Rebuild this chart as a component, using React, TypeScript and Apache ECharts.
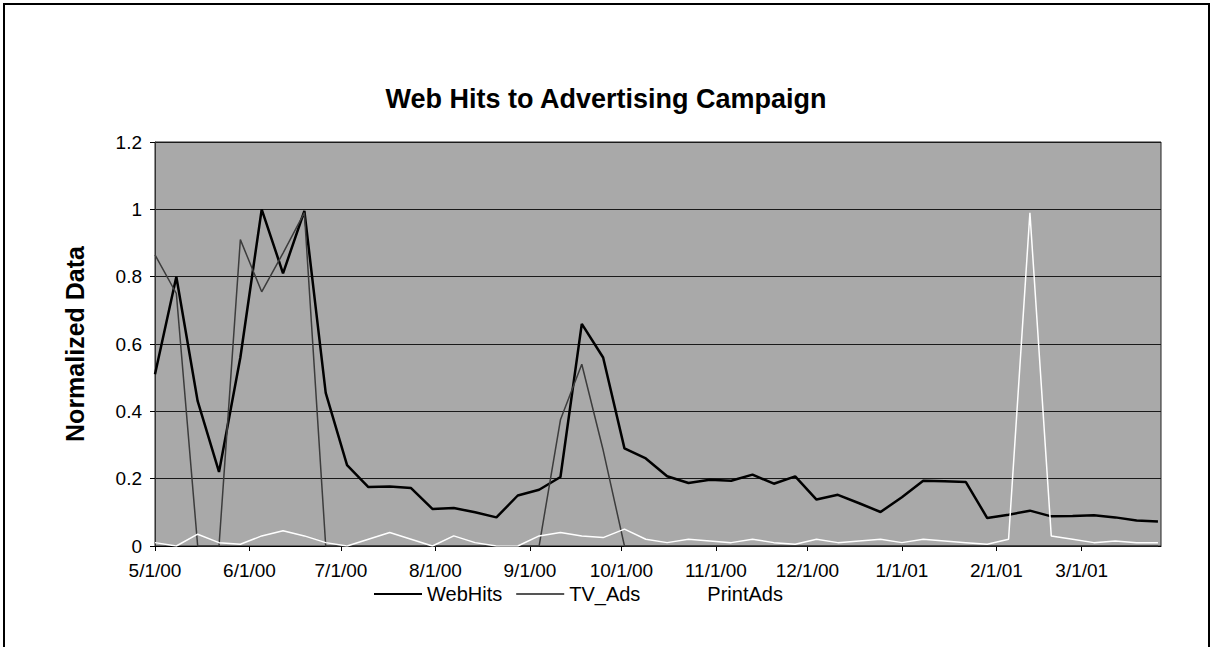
import React, { useEffect, useRef } from "react";
import * as echarts from "echarts";

const weekDates = [
  "2000-05-01", "2000-05-08", "2000-05-15", "2000-05-22", "2000-05-29",
  "2000-06-05", "2000-06-12", "2000-06-19", "2000-06-26", "2000-07-03",
  "2000-07-10", "2000-07-17", "2000-07-24", "2000-07-31", "2000-08-07",
  "2000-08-14", "2000-08-21", "2000-08-28", "2000-09-04", "2000-09-11",
  "2000-09-18", "2000-09-25", "2000-10-02", "2000-10-09", "2000-10-16",
  "2000-10-23", "2000-10-30", "2000-11-06", "2000-11-13", "2000-11-20",
  "2000-11-27", "2000-12-04", "2000-12-11", "2000-12-18", "2000-12-25",
  "2001-01-01", "2001-01-08", "2001-01-15", "2001-01-22", "2001-01-29",
  "2001-02-05", "2001-02-12", "2001-02-19", "2001-02-26", "2001-03-05",
  "2001-03-12", "2001-03-19", "2001-03-26",
];

const webHits = [
  0.51, 0.8, 0.43, 0.22, 0.56, 1.0, 0.81, 0.995, 0.455, 0.24,
  0.175, 0.177, 0.172, 0.11, 0.113, 0.1, 0.085, 0.15, 0.167, 0.205,
  0.66, 0.56, 0.29, 0.26, 0.207, 0.187, 0.197, 0.194, 0.212, 0.185,
  0.207, 0.138, 0.152, 0.127, 0.101, 0.145, 0.194, 0.192, 0.19, 0.083,
  0.093, 0.105, 0.088, 0.089, 0.091, 0.085, 0.076, 0.073,
];

const tvAds = [
  0.865, 0.75, 0, 0, 0.91, 0.755, 0.87, 0.99, 0, 0,
  0, 0, 0, 0, 0, 0, 0, 0, 0, 0.375,
  0.54, 0.285, 0, 0, 0, 0, 0, 0, 0, 0,
  0, 0, 0, 0, 0, 0, 0, 0, 0, 0,
  0, 0, 0, 0, 0, 0, 0, 0,
];

const printAds = [
  0.01, 0.0, 0.035, 0.01, 0.005, 0.03, 0.045, 0.03, 0.01, 0.0,
  0.02, 0.04, 0.02, 0.0, 0.03, 0.01, 0.0, 0.0, 0.03, 0.04,
  0.03, 0.025, 0.05, 0.02, 0.01, 0.02, 0.015, 0.01, 0.02, 0.01,
  0.005, 0.02, 0.01, 0.015, 0.02, 0.01, 0.02, 0.015, 0.01, 0.005,
  0.02, 0.99, 0.03, 0.02, 0.01, 0.015, 0.01, 0.01,
];

const monthTicks = [
  "2000-05-01", "2000-06-01", "2000-07-01", "2000-08-01", "2000-09-01",
  "2000-10-01", "2000-11-01", "2000-12-01", "2001-01-01", "2001-02-01",
  "2001-03-01",
];
const monthLabels = [
  "5/1/00", "6/1/00", "7/1/00", "8/1/00", "9/1/00", "10/1/00",
  "11/1/00", "12/1/00", "1/1/01", "2/1/01", "3/1/01",
];

const axisMin = "2000-05-01";
const axisMax = "2001-03-27";

const ts = (s: string) => {
  const [y, m, d] = s.split("-").map(Number);
  return Date.UTC(y, m - 1, d);
};

const FONT = "'Liberation Sans', Arial, sans-serif";

export default function App() {
  const ref = useRef<HTMLDivElement>(null);

  useEffect(() => {
    if (!ref.current) return;
    const chart = echarts.init(ref.current, undefined, { renderer: "svg" });
    const tickTimes = monthTicks.map(ts);
    const labelMap = new Map<number, string>();
    tickTimes.forEach((t, i) => labelMap.set(t, monthLabels[i]));
    const pair = (vals: number[]) => weekDates.map((d, i) => [ts(d), vals[i]]);

    chart.setOption({
      animation: false,
      backgroundColor: "#ffffff",
      textStyle: { fontFamily: FONT },
      title: {
        text: "Web Hits to Advertising Campaign",
        left: "center",
        top: 80,
        textStyle: { fontFamily: FONT, fontSize: 27, fontWeight: "bold", color: "#000" },
      },
      graphic: [
        {
          type: "rect",
          shape: { x: 4, y: 4, width: 1205, height: 720 },
          style: { fill: "none", stroke: "#000", lineWidth: 2 },
          silent: true,
        },
      ],
      legend: {
        left: 369,
        top: 579,
        itemWidth: 48,
        itemHeight: 2,
        itemGap: 14,
        icon: "rect",
        textStyle: { fontFamily: FONT, fontSize: 20, color: "#000" },
        data: [
          { name: "WebHits", itemStyle: { color: "#000" } },
          { name: "TV_Ads", itemStyle: { color: "#555" } },
          { name: "PrintAds", itemStyle: { color: "#fff" } },
        ],
      },
      grid: {
        left: 155,
        right: 51,
        top: 142,
        bottom: 101,
        show: true,
        backgroundColor: "#a9a9a9",
        borderColor: "#222",
        borderWidth: 1,
      },
      xAxis: {
        type: "value",
        min: ts(axisMin),
        max: ts(axisMax),
        axisLine: { show: true, lineStyle: { color: "#000", width: 1 } },
        axisTick: {
          show: true,
          customValues: tickTimes,
          length: 5,
          inside: false,
          lineStyle: { color: "#000" },
        },
        axisLabel: {
          customValues: tickTimes,
          margin: 15,
          fontSize: 19,
          color: "#000",
          fontFamily: FONT,
          formatter: (v: number) => labelMap.get(v) ?? "",
        },
        splitLine: { show: false },
        minorTick: { show: false },
      },
      yAxis: {
        type: "value",
        min: 0,
        max: 1.2,
        interval: 0.2,
        name: "Normalized Data",
        nameLocation: "middle",
        nameGap: 68,
        nameRotate: 90,
        nameTextStyle: { fontFamily: FONT, fontSize: 25, fontWeight: "bold", color: "#000" },
        axisLine: { show: true, lineStyle: { color: "#333", width: 1 } },
        axisTick: { show: true, length: 5, inside: false, lineStyle: { color: "#000" } },
        axisLabel: { margin: 13, fontSize: 19, color: "#000", fontFamily: FONT },
        splitLine: { show: true, lineStyle: { color: "#1a1a1a", width: 1 } },
      },
      series: [
        {
          name: "WebHits",
          type: "line",
          data: pair(webHits),
          symbol: "none",
          lineStyle: { color: "#000", width: 2.5 },
          itemStyle: { color: "#000" },
          z: 3,
        },
        {
          name: "TV_Ads",
          type: "line",
          data: pair(tvAds),
          symbol: "none",
          lineStyle: { color: "#3c3c3c", width: 1.5 },
          itemStyle: { color: "#3c3c3c" },
          z: 4,
        },
        {
          name: "PrintAds",
          type: "line",
          data: pair(printAds),
          symbol: "none",
          lineStyle: { color: "#ffffff", width: 1.5 },
          itemStyle: { color: "#ffffff" },
          z: 5,
        },
      ],
    });

    return () => chart.dispose();
  }, []);

  return (
    <div
      ref={ref}
      style={{ position: "absolute", left: 0, top: 0, width: 1212, height: 647 }}
    />
  );
}
